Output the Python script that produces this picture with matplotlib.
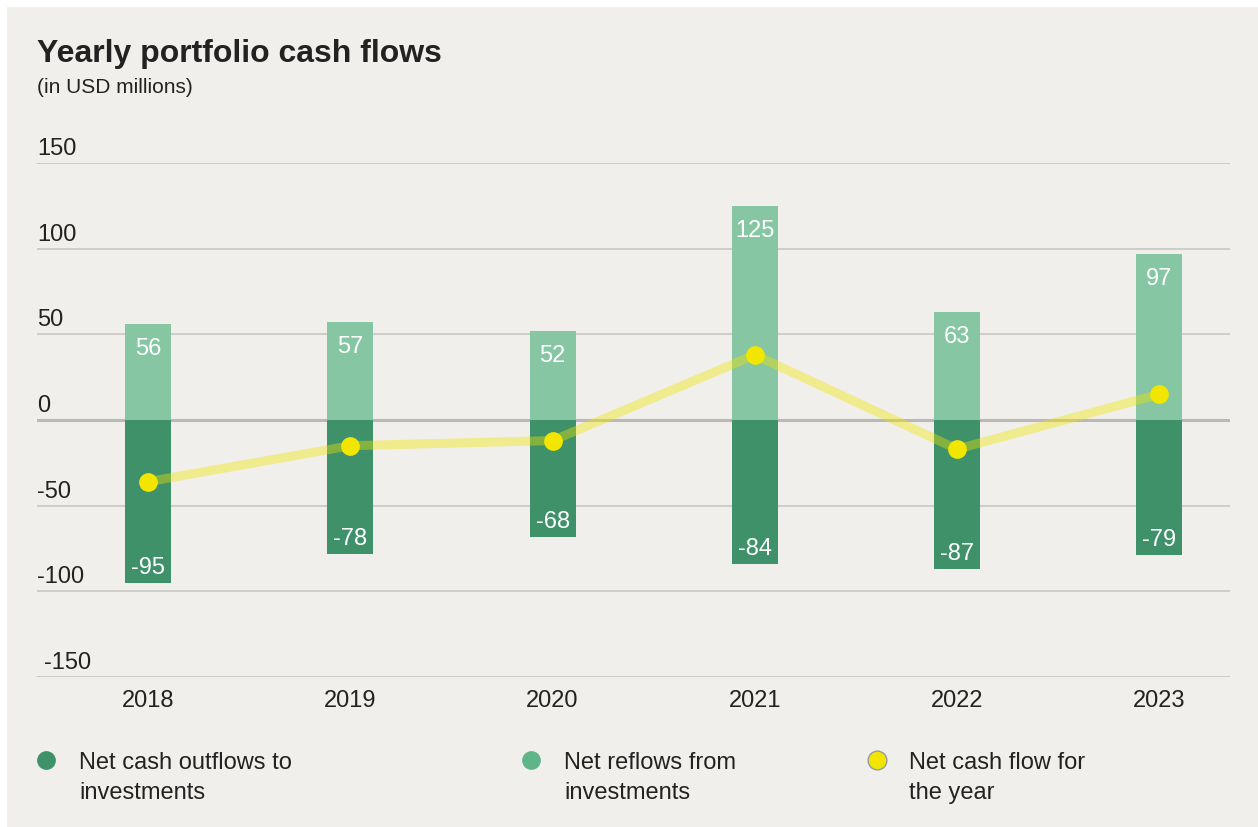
import matplotlib
matplotlib.use("Agg")
import matplotlib.pyplot as plt
from matplotlib.patches import Rectangle
from matplotlib.lines import Line2D
from matplotlib.transforms import blended_transform_factory, offset_copy

plt.rcParams['font.family'] = ['Liberation Sans', 'DejaVu Sans']

years = ["2018", "2019", "2020", "2021", "2022", "2023"]
reflows = [56, 57, 52, 125, 63, 97]
outflows = [-95, -78, -68, -84, -87, -79]
net_flow = [-36, -15, -12, 38, -17, 15]
y_ticks = [150, 100, 50, 0, -50, -100, -150]

BG = "#F0EFEB"
DARK = "#3E9169"
LIGHT = "#86C6A3"
LEGEND_LIGHT = "#5FB48A"
YELLOW = "#F2E600"
TEXT = "#222222"
GRID = "#C9C7C3"

W, H = 1258, 828
fig = plt.figure(figsize=(W / 100, H / 100), dpi=100)
fig.patch.set_facecolor("white")
fig.patches.append(Rectangle((7 / W, 0), 1, 1 - 8 / H, transform=fig.transFigure,
                             facecolor=BG, edgecolor="none", zorder=-10))

ax = fig.add_axes([37 / W, 150 / H, (1230 - 37) / W, (678 - 164) / H])
ax.set_facecolor("none")
x = list(range(len(years)))
ax.set_xlim(-0.55, 5.35)
ax.set_ylim(-150, 150)

for v in y_ticks:
    if v == 0:
        ax.axhline(v, color="#BBB9B5", lw=2.2, zorder=1)
    else:
        ax.axhline(v, color=GRID, lw=1.2, zorder=1)

bw = 0.228
ax.bar(x, reflows, width=bw, color=LIGHT, zorder=2)
ax.bar(x, outflows, width=bw, color=DARK, zorder=2)

ax.plot(x, net_flow, color=YELLOW, alpha=0.4, lw=6.5, solid_capstyle="butt", zorder=3)
ax.plot(x, net_flow, linestyle="none", marker="o", markersize=13.5,
        markerfacecolor=YELLOW, markeredgecolor="none", zorder=4)

for xi, v in zip(x, reflows):
    ax.annotate(str(v), (xi, v), xytext=(0, -13), textcoords="offset pixels",
                ha="center", va="top", color="white", fontsize=17, zorder=5)
for xi, v in zip(x, outflows):
    ax.annotate(str(v), (xi, v), xytext=(0, 5), textcoords="offset pixels",
                ha="center", va="bottom", color="white", fontsize=17, zorder=5)

trans = blended_transform_factory(ax.transAxes, ax.transData)
for v in y_ticks:
    dx = 7 if v == -150 else 0
    ax.text(0, v, str(v), transform=offset_copy(trans, fig=fig, x=dx, y=9, units="dots"),
            ha="left", va="baseline", fontsize=17, color=TEXT)

for xi, lab in zip(x, years):
    ax.text(xi, -150, lab, transform=offset_copy(ax.transData, fig=fig, x=0, y=-12, units="dots"),
            ha="center", va="top", fontsize=17, color=TEXT)

ax.set_xticks([])
ax.set_yticks([])
for s in ax.spines.values():
    s.set_visible(False)

fig.text(37 / W, 1 - 62 / H, "Yearly portfolio cash flows", fontsize=23,
         fontweight="bold", color=TEXT, ha="left", va="baseline")
fig.text(37 / W, 1 - 93 / H, "(in USD millions)", fontsize=15,
         color=TEXT, ha="left", va="baseline")

legend_items = [
    (46, 79, DARK, "none", ["Net cash outflows to", "investments"]),
    (531, 564, LEGEND_LIGHT, "none", ["Net reflows from", "investments"]),
    (877, 909, YELLOW, "#9A9A9A", ["Net cash flow for", "the year"]),
]
for dx, tx, fc, ec, lines in legend_items:
    fig.add_artist(Line2D([dx / W], [1 - 761 / H], transform=fig.transFigure,
                          marker="o", markersize=13.5, markerfacecolor=fc,
                          markeredgecolor=ec, markeredgewidth=1, linestyle="none"))
    for i, line in enumerate(lines):
        fig.text(tx / W, 1 - (769 + 30 * i) / H, line, fontsize=17, color=TEXT,
                 ha="left", va="baseline")

fig.savefig("out.png", dpi=100, facecolor=fig.get_facecolor())
